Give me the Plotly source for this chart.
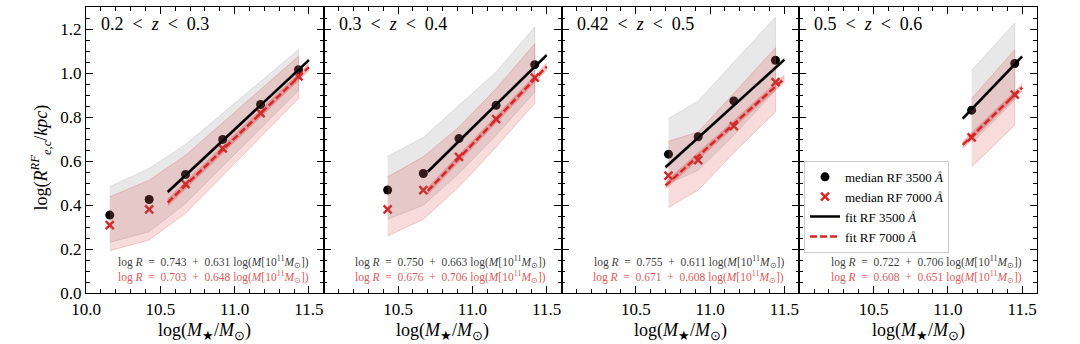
import plotly.graph_objects as go
from plotly.subplots import make_subplots

# redshift bins
z_lo = ["0.2", "0.3", "0.42", "0.5"]
z_hi = ["0.3", "0.4", "0.5", "0.6"]

# binned stellar mass (log M*/Msun) per panel
mass = [
    [10.16, 10.425, 10.67, 10.92, 11.175, 11.43],
    [10.43, 10.67, 10.91, 11.16, 11.42],
    [10.72, 10.92, 11.16, 11.44],
    [11.16, 11.45],
]

# median log R at 3500 A (black) and 7000 A (red)
med_3500 = [
    [0.354, 0.425, 0.539, 0.698, 0.857, 1.015],
    [0.468, 0.543, 0.702, 0.853, 1.038],
    [0.631, 0.710, 0.873, 1.058],
    [0.831, 1.043],
]
med_7000 = [
    [0.309, 0.380, 0.495, 0.657, 0.818, 0.985],
    [0.380, 0.468, 0.619, 0.790, 0.979],
    [0.533, 0.604, 0.758, 0.959],
    [0.707, 0.902],
]

# scatter envelopes
hi_3500 = [
    [0.483, 0.566, 0.675, 0.817, 0.962, 1.106],
    [0.622, 0.707, 0.853, 1.005, 1.209],
    [0.793, 0.873, 1.049, 1.254],
    [1.012, 1.227],
]
lo_3500 = [
    [0.230, 0.278, 0.407, 0.576, 0.748, 0.921],
    [0.335, 0.399, 0.543, 0.717, 0.914],
    [0.498, 0.558, 0.717, 0.921],
    [0.680, 0.876],
]
hi_7000 = [
    [0.437, 0.513, 0.626, 0.775, 0.925, 1.076],
    [0.528, 0.619, 0.755, 0.929, 1.133],
    [0.690, 0.732, 0.908, 1.115],
    [0.884, 1.106],
]
lo_7000 = [
    [0.192, 0.241, 0.362, 0.534, 0.708, 0.884],
    [0.259, 0.335, 0.483, 0.664, 0.861],
    [0.389, 0.468, 0.637, 0.823],
    [0.573, 0.763],
]

# linear fits: log R = a + b (log M - 11)
a_3500 = [0.743, 0.750, 0.755, 0.722]
b_3500 = [0.631, 0.663, 0.611, 0.706]
a_7000 = [0.703, 0.676, 0.671, 0.608]
b_7000 = [0.648, 0.706, 0.608, 0.651]
fit_from = [10.55, 10.7, 10.7, 11.1]
fit_to = [11.5, 11.5, 11.5, 11.5]
fit_err_3500 = 0.010
fit_err_7000 = 0.018

RED = "#d62728"
FONT = "Liberation Serif"
SP = "&nbsp;"

fig = make_subplots(rows=1, cols=4, shared_yaxes=True, horizontal_spacing=0)

for i in range(4):
    col = i + 1
    first = i == 0

    fig.add_trace(go.Scatter(x=mass[i], y=med_3500[i], mode="markers",
                             marker=dict(symbol="circle", size=9, color="black"),
                             name="median RF 3500 <i>Å</i>", showlegend=first,
                             legendgroup="m35"), row=1, col=col)
    fig.add_trace(go.Scatter(x=mass[i], y=med_7000[i], mode="markers",
                             marker=dict(symbol="x-thin", size=8,
                                         line=dict(color=RED, width=2.5)),
                             name="median RF 7000 <i>Å</i>", showlegend=first,
                             legendgroup="m70"), row=1, col=col)

    # envelopes
    fig.add_trace(go.Scatter(x=mass[i] + mass[i][::-1], y=hi_3500[i] + lo_3500[i][::-1],
                             fill="toself", fillcolor="rgba(128,128,128,0.18)",
                             line=dict(color="rgba(128,128,128,0.25)", width=0.8),
                             mode="lines", showlegend=False, hoverinfo="skip"),
                  row=1, col=col)
    fig.add_trace(go.Scatter(x=mass[i] + mass[i][::-1], y=hi_7000[i] + lo_7000[i][::-1],
                             fill="toself", fillcolor="rgba(214,39,40,0.17)",
                             line=dict(color="rgba(214,39,40,0.25)", width=0.8),
                             mode="lines", showlegend=False, hoverinfo="skip"),
                  row=1, col=col)

    # fits
    fx = [fit_from[i], fit_to[i]]
    f35 = [a_3500[i] + b_3500[i] * (m - 11) for m in fx]
    f70 = [a_7000[i] + b_7000[i] * (m - 11) for m in fx]

    fig.add_trace(go.Scatter(x=fx + fx[::-1],
                             y=[v + fit_err_3500 for v in f35] + [v - fit_err_3500 for v in f35[::-1]],
                             fill="toself", fillcolor="rgba(128,128,128,0.35)",
                             line=dict(width=0), mode="lines", showlegend=False,
                             hoverinfo="skip"), row=1, col=col)
    fig.add_trace(go.Scatter(x=fx + fx[::-1],
                             y=[v + fit_err_7000 for v in f70] + [v - fit_err_7000 for v in f70[::-1]],
                             fill="toself", fillcolor="rgba(214,39,40,0.3)",
                             line=dict(width=0), mode="lines", showlegend=False,
                             hoverinfo="skip"), row=1, col=col)
    fig.add_trace(go.Scatter(x=fx, y=f35, mode="lines",
                             line=dict(color="black", width=2.5),
                             name="fit RF 3500 <i>Å</i>", showlegend=first,
                             legendgroup="f35"), row=1, col=col)
    fig.add_trace(go.Scatter(x=fx, y=f70, mode="lines",
                             line=dict(color=RED, width=2.5, dash="7px,3px"),
                             name="fit RF 7000 <i>Å</i>", showlegend=first,
                             legendgroup="f70"), row=1, col=col)

    xd = "x domain" if first else f"x{col} domain"
    yd = "y domain" if first else f"y{col} domain"
    fig.add_annotation(xref=xd, yref=yd, x=0.055, y=0.94, xanchor="left", yanchor="middle",
                       text=f"{z_lo[i]}{SP*2}&lt;{SP*2}<i>z</i>{SP*2}&lt;{SP*2}{z_hi[i]}",
                       showarrow=False, font=dict(family=FONT, size=18, color="black"))
    eq = "log <i>R</i>{s}={s}{a:.3f}{s}+{s}{b:.3f} log(<i>M</i>[10<sup>11</sup><i>M</i><sub>⊙</sub>])"
    fig.add_annotation(xref=xd, yref=yd, x=0.945, y=0.107, xanchor="right", yanchor="middle",
                       text=eq.format(s=SP * 2, a=a_3500[i], b=b_3500[i]),
                       showarrow=False, font=dict(family=FONT, size=11.5, color="rgba(0,0,0,0.8)"))
    fig.add_annotation(xref=xd, yref=yd, x=0.945, y=0.055, xanchor="right", yanchor="middle",
                       text=eq.format(s=SP * 2, a=a_7000[i], b=b_7000[i]),
                       showarrow=False, font=dict(family=FONT, size=11.5, color="rgba(214,39,40,0.8)"))
    fig.add_annotation(xref=xd, yref="paper", x=0.5, y=-0.133, xanchor="center", yanchor="middle",
                       text="log(<i>M</i><sub>★</sub>/<i>M</i><sub>⊙</sub>)", showarrow=False,
                       font=dict(family=FONT, size=18, color="black"))

    fig.update_xaxes(tickmode="array", tickvals=[10, 10.5, 11, 11.5],
                     ticktext=["10.0" if first else " ", "10.5", "11.0", "11.5"],
                     row=1, col=col)

fig.add_annotation(xref="paper", yref="paper", x=-0.048, y=0.475, textangle=-90,
                   xanchor="center", yanchor="middle", showarrow=False,
                   text="log(<i>R</i><sup><i>RF</i></sup><sub><i>e,c</i></sub>/<i>kpc</i>)",
                   font=dict(family=FONT, size=18, color="black"))

fig.update_xaxes(range=[10, 11.6], showline=True, linecolor="black", linewidth=1.3,
                 mirror="ticks", ticks="inside", ticklen=7, tickwidth=1.2, tickcolor="black",
                 minor=dict(tickmode="linear", tick0=10, dtick=0.1, ticks="inside",
                            ticklen=3.5, tickwidth=1, tickcolor="black"),
                 showgrid=False, zeroline=False,
                 tickfont=dict(family=FONT, size=17, color="black"))
fig.update_yaxes(range=[0, 1.3], tickmode="linear", tick0=0, dtick=0.2, tickformat=".1f",
                 showline=True, linecolor="black", linewidth=1.3,
                 mirror="ticks", ticks="inside", ticklen=7, tickwidth=1.2, tickcolor="black",
                 minor=dict(tickmode="linear", tick0=0, dtick=0.05, ticks="inside",
                            ticklen=3.5, tickwidth=1, tickcolor="black"),
                 showgrid=False, zeroline=False,
                 tickfont=dict(family=FONT, size=17, color="black"))

fig.update_layout(
    width=1080, height=344,
    margin=dict(l=86, r=43, t=7, b=51),
    plot_bgcolor="white", paper_bgcolor="white",
    legend=dict(x=0.755, y=0.462, xanchor="left", yanchor="top",
                bgcolor="rgba(255,255,255,0.85)", bordercolor="#cccccc", borderwidth=1,
                font=dict(family=FONT, size=13, color="black"),
                tracegroupgap=0),
)

fig.write_html("out.html", config={"displayModeBar": False},
               post_script="document.body.style.margin = '0px';")
